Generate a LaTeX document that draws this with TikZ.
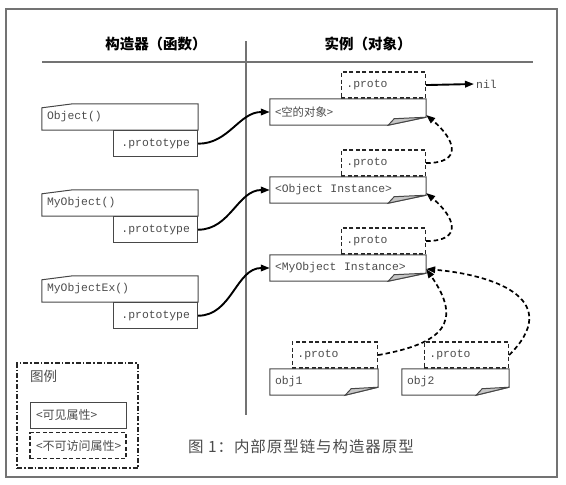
\documentclass[tikz,border=0pt]{standalone}
\usepackage{fontspec}
\setmonofont{Liberation Mono}
\newfontfamily\cjk{Noto Sans CJK SC}
\newfontfamily\cjkpie[LetterSpace=6]{Noto Sans CJK SC}
\usetikzlibrary{arrows.meta}
\definecolor{linea}{gray}{0.28}
\definecolor{marco}{gray}{0.45}
\definecolor{texto}{gray}{0.3}

\begin{document}
\begin{tikzpicture}[x=1pt, y=-1pt, >={Triangle[length=9pt,width=6.5pt]},
  mono/.style={font=\ttfamily\fontsize{11.4}{12}\selectfont, text=texto},
  borde/.style={draw=linea, line width=1pt, line join=miter},
  caja/.style={mono, borde, minimum height=26pt, inner xsep=5pt, inner ysep=0pt},
  ctor/.style={mono, minimum height=26pt, inner xsep=5pt, inner ysep=0pt, text width=146pt, align=left},
  inst/.style={ctor, text width=#1},
  proto/.style={caja, dashed, line width=1.5pt, dash pattern=on 4pt off 2.5pt, draw=black!85, text width=#1, align=left},
  flecha/.style={->, line width=1.9pt, black},
  enlace/.style={->, line width=1.7pt, black, dash pattern=on 4.5pt off 3pt},
  titulo/.style={font=\cjk\bfseries\fontsize{14.5}{16}\selectfont}]
  \useasboundingbox (0,0) rectangle (566,485);
  % marco y cabeceras
  \draw[marco, line width=1.3pt] (6,9) rectangle (557,477);
  \node[titulo] (hctor) at (156,44) {构造器（函数）};
  \node[titulo] (hinst) at (368,44) {实例（对象）};
  \draw[marco, line width=1.2pt] (42,62) -- (533,62);
  \draw[marco, line width=1.2pt] (246,41) -- (246,415);
  % constructores
  \node[ctor] (obj) at (120,117) {Object()};
  \node[caja, anchor=north east, minimum width=84pt] (objp) at (obj.south east) {.prototype};
  \node[ctor] (myobj) at (120,203) {MyObject()};
  \node[caja, anchor=north east, minimum width=84pt] (myobjp) at (myobj.south east) {.prototype};
  \node[ctor] (myex) at (120,289) {MyObjectEx()};
  \node[caja, anchor=north east, minimum width=84pt] (myexp) at (myex.south east) {.prototype};
  \foreach \n in {obj,myobj,myex}
    \draw[borde] ([yshift=-4pt]\n.north west) -- ([xshift=31pt]\n.north west) -- (\n.north east)
      -- (\n.south east) -- (\n.south west) -- cycle;
  % instancias
  \node[inst=146pt] (inst0) at (348,112) {\cjk <空的对象>};
  \node[inst=146pt] (inst1) at (348,190) {<Object\ \ Instance>};
  \node[inst=146pt] (inst2) at (348,268) {<MyObject\ \ Instance>};
  \node[inst=98pt] (obj1) at (324,382) {obj1};
  \node[inst=97pt] (obj2) at (455.5,382) {obj2};
  \node[proto=74pt, anchor=south east] (inst0p) at (inst0.north east) {.proto};
  \node[proto=74pt, anchor=south east] (inst1p) at (inst1.north east) {.proto};
  \node[proto=74pt, anchor=south east] (inst2p) at (inst2.north east) {.proto};
  \node[proto=75pt, anchor=south east] (obj1p) at (obj1.north east) {.proto};
  \node[proto=74pt, anchor=south east] (obj2p) at (obj2.north east) {.proto};
  \foreach \n/\d in {inst0/38,inst1/38,inst2/38,obj1/33,obj2/33} {
    \draw[borde] (\n.south west) -- (\n.north west) -- (\n.north east) -- ([yshift=8pt]\n.south east)
      -- ([xshift=-\d pt]\n.south east) -- cycle;
    \filldraw[borde, fill=gray!45] ([xshift=-\d pt]\n.south east) -- ([xshift=-\d pt+6pt,yshift=6.5pt]\n.south east)
      -- ([yshift=8pt]\n.south east) -- cycle;
  }
  \node[mono, anchor=west, inner sep=2pt] (nil) at (474,84) {nil};
  % enlaces
  \draw[flecha] (objp.east) to[out=0, in=180] (inst0.west);
  \draw[flecha] (myobjp.east) to[out=0, in=180] (inst1.west);
  \draw[flecha] (myexp.east) to[out=0, in=180] (inst2.west);
  \draw[flecha] (inst0p.east) -- (nil.west);
  \draw[enlace] (inst1p.east) to[out=0, in=-40, looseness=2] ([yshift=-3pt]inst0.east);
  \draw[enlace] (inst2p.east) to[out=0, in=-40, looseness=2] ([yshift=-3pt]inst1.east);
  \draw[enlace] (obj1p.east) to[out=10, in=-55, looseness=1.7] ([yshift=-1pt]inst2.east);
  \draw[enlace] (obj2p.east) to[out=45, in=-5, looseness=1.6] ([yshift=-1pt]inst2.east);
  % leyenda
  \node[draw=black!85, line width=1.6pt, dash pattern=on 5pt off 2pt on 1.5pt off 2pt,
    minimum width=121pt, minimum height=105pt] (leyenda) at (77.5,415.5) {};
  \node[anchor=west, font=\cjk\fontsize{13.5}{15}\selectfont, text=texto, inner sep=0pt] (leytit) at (30,376) {图例};
  \node[caja, text width=84pt, inner xsep=6pt, align=left, font=\cjk\fontsize{12}{13}\selectfont] (visible) at (78,415) {<可见属性>};
  \node[proto=84pt, inner xsep=6pt, font=\cjk\fontsize{12}{13}\selectfont] (oculto) at (78,445.5) {<不可访问属性>};
  % pie
  \node[font=\cjkpie\fontsize{15.5}{17}\selectfont, text=black!70] (pie) at (301,447) {图 1：内部原型链与构造器原型};
\end{tikzpicture}
\end{document}
